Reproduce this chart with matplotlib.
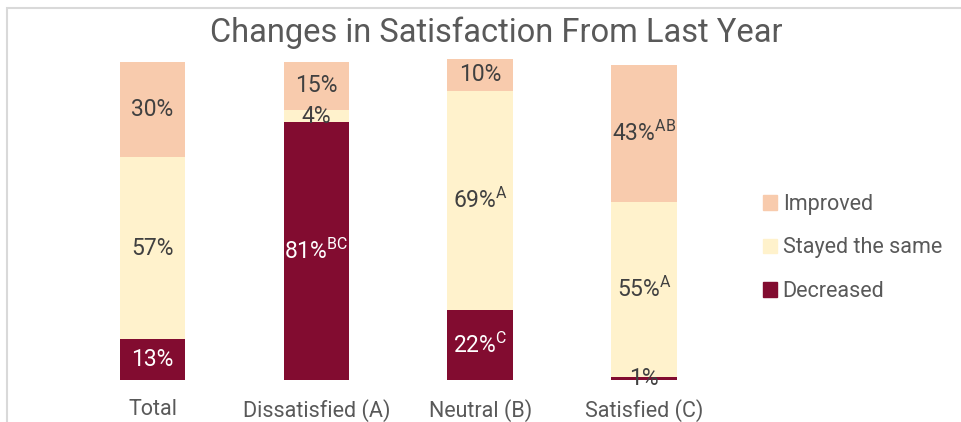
import matplotlib
matplotlib.use("Agg")
import matplotlib.pyplot as plt
from matplotlib.patches import Rectangle, Patch

plt.rcParams['font.family'] = ['Roboto', 'DejaVu Sans']
plt.rcParams['mathtext.fontset'] = 'custom'
plt.rcParams['mathtext.rm'] = 'Roboto'

categories = ['Total', 'Dissatisfied (A)', 'Neutral (B)', 'Satisfied (C)']
decreased = [13, 81, 22, 1]
stayed = [57, 4, 69, 55]
improved = [30, 15, 10, 43]
dec_sup = ['', 'BC', 'C', '']
stay_sup = ['', '', 'A', 'A']
imp_sup = ['', '', '', 'AB']

c_imp = '#F8CBAD'
c_stay = '#FFF2CC'
c_dec = '#820C30'
grey = '#595959'

W, H = 961, 422
fig = plt.figure(figsize=(W / 100, H / 100), dpi=100)

# light frame around the chart (cut off at right and bottom)
fig.patches.append(Rectangle((7 / W, -0.1), 1.1, 1 - 8 / H + 0.1, transform=fig.transFigure,
                             fill=False, edgecolor='#D9D9D9', linewidth=1.5))

left = 70.6 / W
right = 725.9 / W
bottom = (H - 380) / H
ax = fig.add_axes([left, bottom, right - left, 318 / H * 1.02])
ax.set_xlim(-0.5, 3.5)
ax.set_ylim(0, 1.02)

x = range(len(categories))
dec = [v / 100 for v in decreased]
sta = [v / 100 for v in stayed]
imp = [v / 100 for v in improved]
base2 = [a + b for a, b in zip(dec, sta)]

b1 = ax.bar(x, dec, width=0.4, color=c_dec, label='Decreased')
b2 = ax.bar(x, sta, width=0.4, bottom=dec, color=c_stay, label='Stayed the same')
b3 = ax.bar(x, imp, width=0.4, bottom=base2, color=c_imp, label='Improved')


def lab(v, sup):
    s = f'{v}%'
    if sup:
        s += r'$^{\mathrm{' + sup + '}}$'
    return s


fs = 16.5
for i in x:
    col = 'white' if decreased[i] > 5 else '#404040'
    ax.text(i, dec[i] / 2, lab(decreased[i], dec_sup[i]), ha='center', va='center',
            fontsize=fs, color=col)
    ax.text(i, dec[i] + sta[i] / 2, lab(stayed[i], stay_sup[i]), ha='center', va='center',
            fontsize=fs, color='#404040')
    ax.text(i, base2[i] + imp[i] / 2, lab(improved[i], imp_sup[i]), ha='center', va='center',
            fontsize=fs, color='#404040')

ax.set_xticks(list(x))
ax.set_xticklabels(categories, fontsize=15.5, color=grey)
ax.tick_params(axis='x', length=0, pad=14)
ax.set_yticks([])
for s in ax.spines.values():
    s.set_visible(False)

fig.text(496 / W, 1 - 33 / H, 'Changes in Satisfaction From Last Year', ha='center', va='center',
         fontsize=23.5, color=grey)

handles = [Patch(color=c_imp), Patch(color=c_stay), Patch(color=c_dec)]
fig.legend(handles, ['Improved', 'Stayed the same', 'Decreased'], loc='center left',
           bbox_to_anchor=(744 / W, 1 - 248 / H), frameon=False, fontsize=15.5,
           labelcolor=grey, handlelength=0.65, handleheight=0.65, handletextpad=0.25,
           labelspacing=1.05)

fig.savefig('out.png', dpi=100)
